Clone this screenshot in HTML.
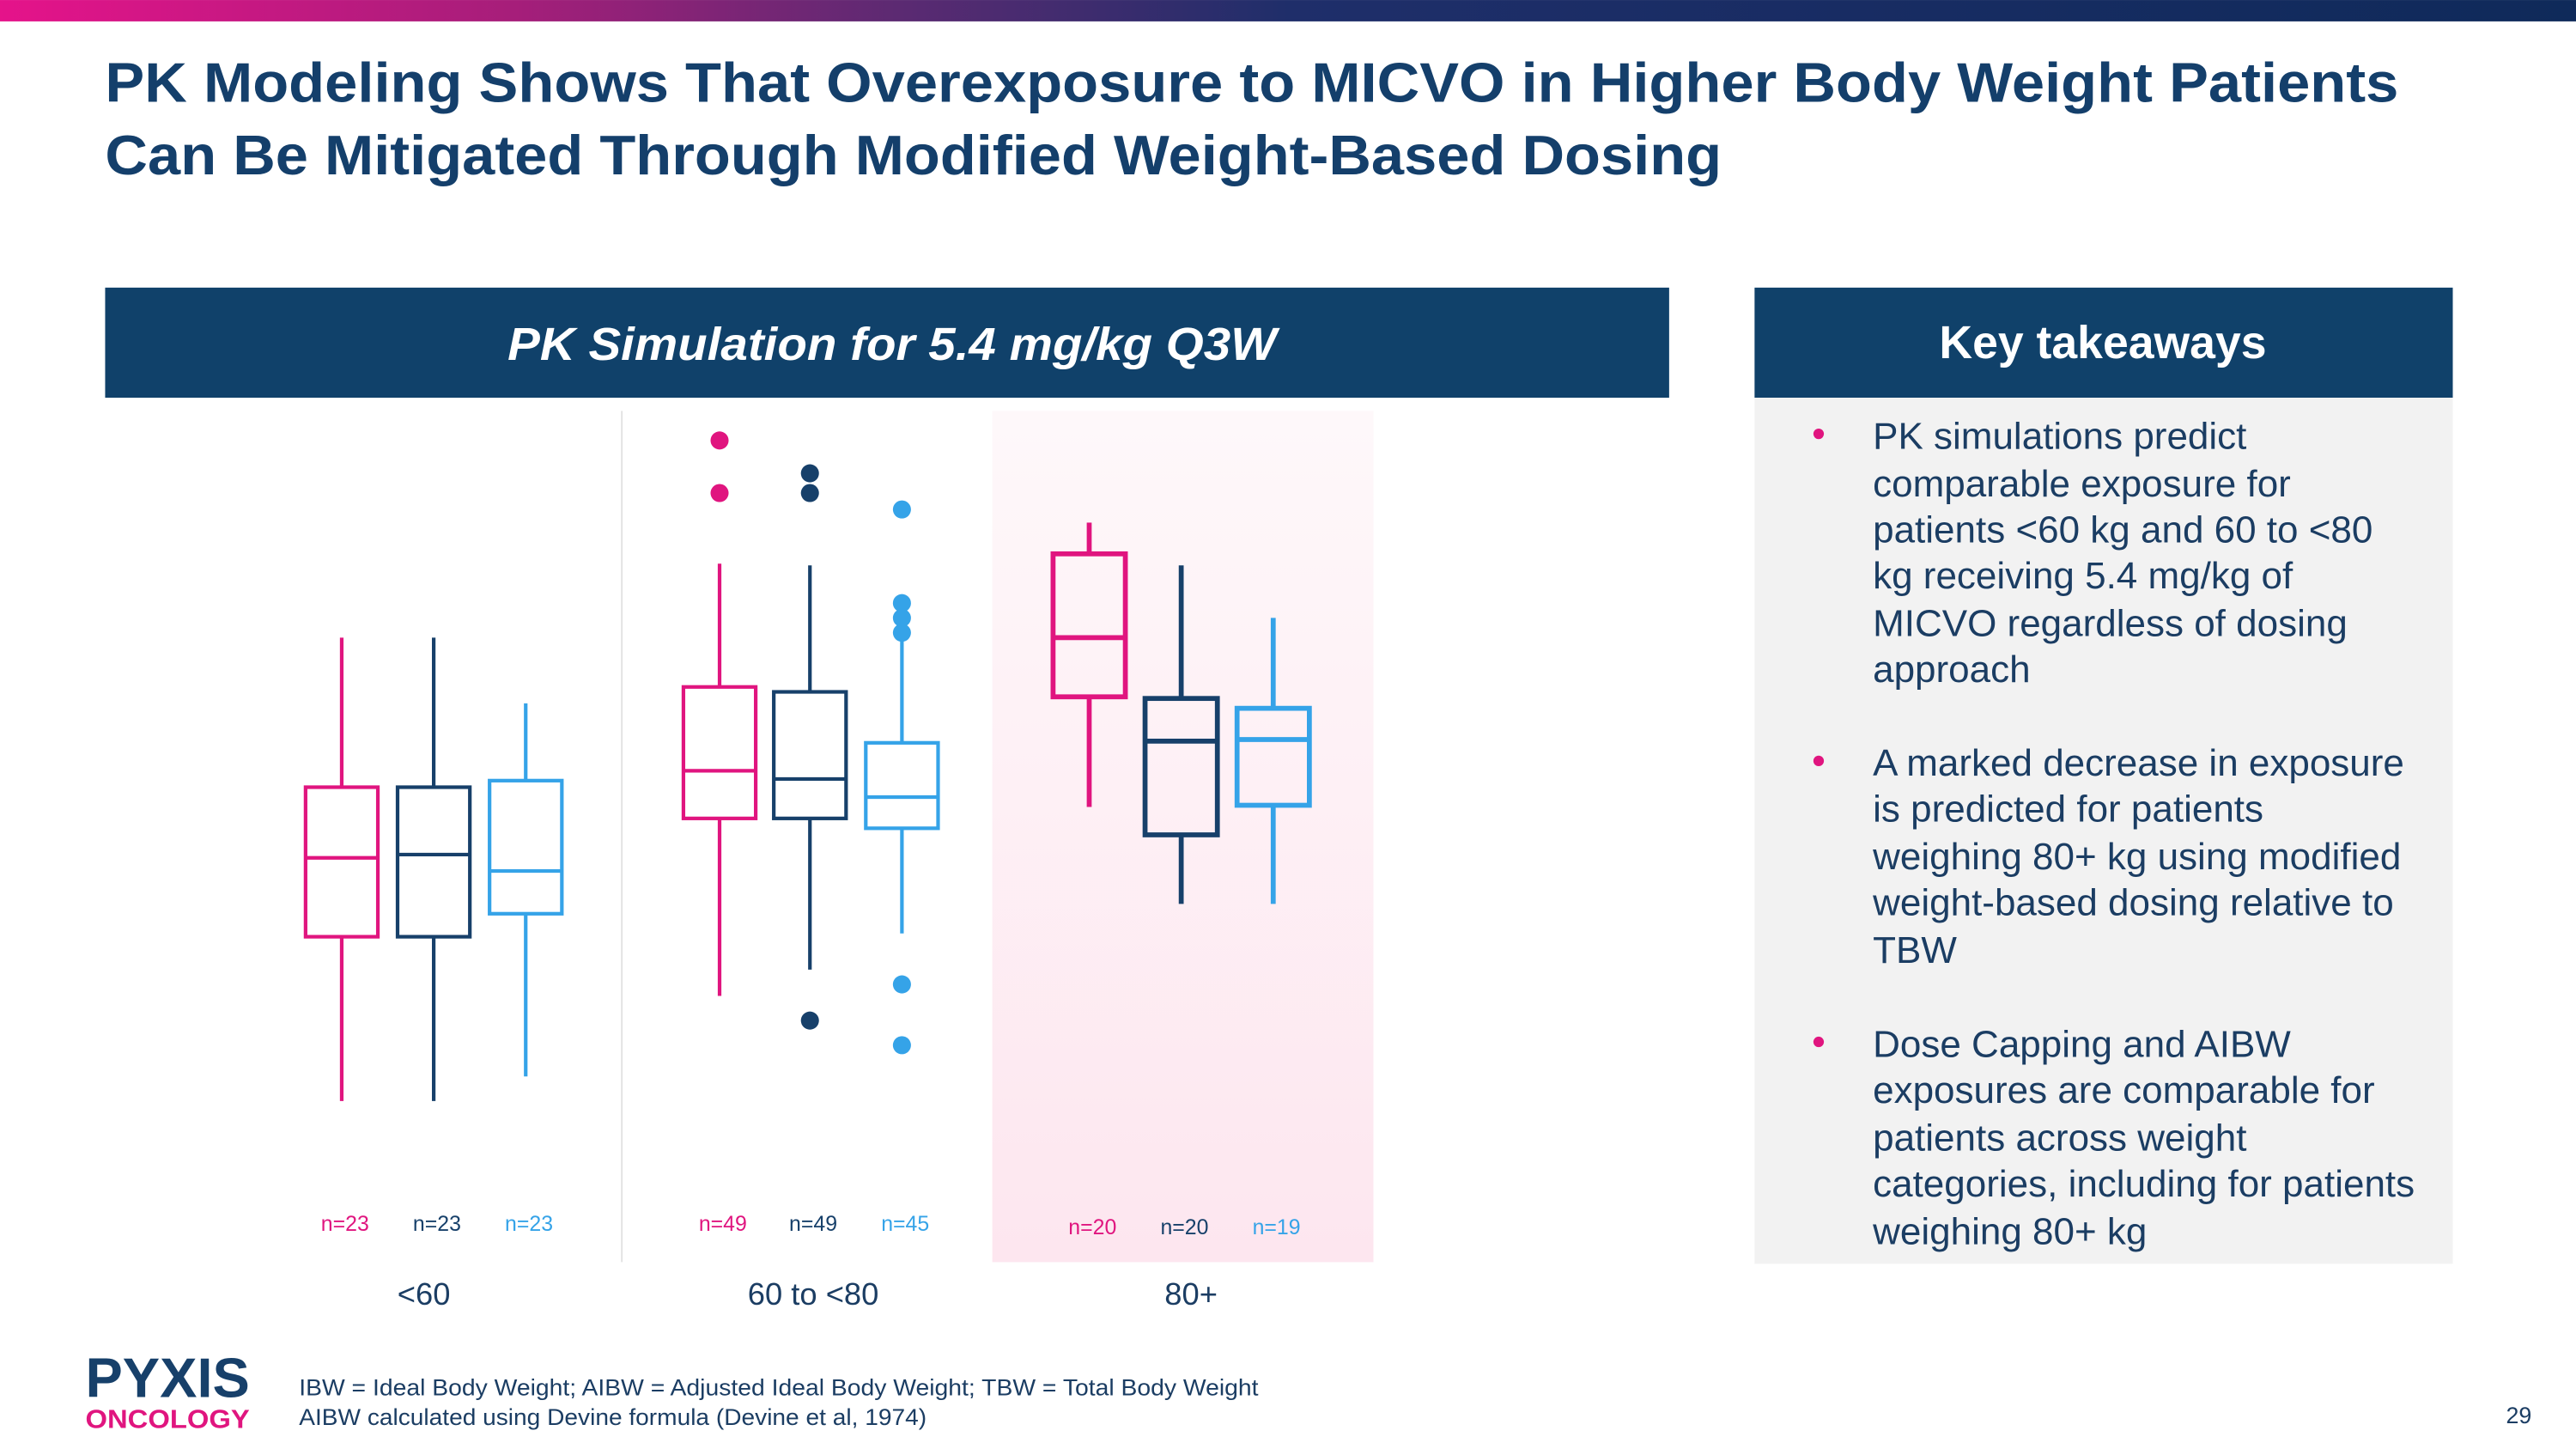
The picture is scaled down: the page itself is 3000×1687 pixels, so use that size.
<!DOCTYPE html>
<html><head><meta charset="utf-8"><style>
html,body{margin:0;padding:0;background:#fff;width:3000px;height:1687px;overflow:hidden}
svg{display:block}
text{font-family:"Liberation Sans",Arial,sans-serif}
</style></head><body>
<svg id="s" width="3000" height="1687" viewBox="0 0 1568 881.7" xmlns="http://www.w3.org/2000/svg">
<defs>
<linearGradient id="top" x1="0" x2="1" y1="0" y2="0">
<stop offset="0" stop-color="#e5138a"/><stop offset="0.2" stop-color="#a61e7a"/><stop offset="0.35" stop-color="#5b2a72"/><stop offset="0.5" stop-color="#1f2e6a"/><stop offset="1" stop-color="#0f2a5a"/>
</linearGradient>
<linearGradient id="pinkbg" x1="0" x2="0" y1="0" y2="1">
<stop offset="0" stop-color="#fef8fa"/><stop offset="1" stop-color="#fde6ef"/>
</linearGradient>
</defs>
<rect x="0" y="0" width="1568" height="13" fill="url(#top)"/>
<text x="64" y="62" font-size="34" font-weight="bold" fill="#143f6b" textLength="1396" lengthAdjust="spacingAndGlyphs">PK Modeling Shows That Overexposure to MICVO in Higher Body Weight Patients</text>
<text x="64" y="106" font-size="34" font-weight="bold" fill="#143f6b" textLength="984" lengthAdjust="spacingAndGlyphs">Can Be Mitigated Through Modified Weight-Based Dosing</text>

<rect x="64" y="175" width="952" height="67" fill="#10416a"/>
<text x="309" y="219" font-size="28" font-weight="bold" font-style="italic" fill="#fff" textLength="468" lengthAdjust="spacingAndGlyphs">PK Simulation for 5.4 mg/kg Q3W</text>

<rect x="1068" y="175" width="425" height="67" fill="#10416a"/>
<text x="1280" y="218" font-size="28" font-weight="bold" fill="#fff" text-anchor="middle">Key takeaways</text>
<rect x="1068" y="242" width="425" height="527" fill="#f2f2f2"/>
<g font-size="23" fill="#1b3d63">
<circle cx="1107" cy="264" r="3.2" fill="#e0157f"/>
<text x="1140" y="273">PK simulations predict</text>
<text x="1140" y="302">comparable exposure for</text>
<text x="1140" y="330">patients &lt;60 kg and 60 to &lt;80</text>
<text x="1140" y="358">kg receiving 5.4 mg/kg of</text>
<text x="1140" y="387">MICVO regardless of dosing</text>
<text x="1140" y="415">approach</text>
<circle cx="1107" cy="463" r="3.2" fill="#e0157f"/>
<text x="1140" y="472">A marked decrease in exposure</text>
<text x="1140" y="500">is predicted for patients</text>
<text x="1140" y="529">weighing 80+ kg using modified</text>
<text x="1140" y="557">weight-based dosing relative to</text>
<text x="1140" y="586">TBW</text>
<circle cx="1107" cy="634" r="3.2" fill="#e0157f"/>
<text x="1140" y="643">Dose Capping and AIBW</text>
<text x="1140" y="671">exposures are comparable for</text>
<text x="1140" y="700">patients across weight</text>
<text x="1140" y="728">categories, including for patients</text>
<text x="1140" y="757">weighing 80+ kg</text>
</g>

<rect x="604" y="250" width="232" height="518" fill="url(#pinkbg)"/>
<line x1="378.5" y1="250" x2="378.5" y2="768" stroke="#e2e2e2" stroke-width="1"/>
<g id="chart"></g>

<g>
<text x="52" y="850" font-size="34" font-weight="bold" fill="#17406a" textLength="100" lengthAdjust="spacingAndGlyphs">PYXIS</text>
<text x="52" y="869" font-size="16" font-weight="bold" fill="#e0157f" textLength="100" lengthAdjust="spacingAndGlyphs">ONCOLOGY</text>
<text x="182" y="849" font-size="14" fill="#1b3d63" textLength="584" lengthAdjust="spacingAndGlyphs">IBW = Ideal Body Weight; AIBW = Adjusted Ideal Body Weight; TBW = Total Body Weight</text>
<text x="182" y="867" font-size="14" fill="#1b3d63" textLength="382" lengthAdjust="spacingAndGlyphs">AIBW calculated using Devine formula (Devine et al, 1974)</text>
<text x="1541" y="866" font-size="14" fill="#1b3d63" text-anchor="end">29</text>
</g>
</svg>
<script>
// exposure units (arbitrary); groups and series
const categories = ["<60", "60 to <80", "80+"];
const seriesNames = ["TBW", "Dose Capping", "AIBW"];
const whiskerHigh = [[78, 78, 68], [89.25, 89, 77.5], [95.5, 89, 81]];
const q3 = [[55.25, 55.25, 56.25], [70.5, 69.75, 62], [90.75, 68.75, 67.25]];
const medians = [[44.5, 45, 42.5], [57.75, 56.5, 53.75], [78, 62.25, 62.5]];
const q1 = [[32.5, 32.5, 36], [50.5, 50.5, 49], [69, 48, 52.5]];
const whiskerLow = [[7.5, 7.5, 11.25], [23.5, 27.5, 33], [52.25, 37.5, 37.5]];
const outliers = [[[], [], []], [[108, 100], [103, 100, 19.75], [97.5, 83.25, 81, 78.75, 25.25, 16]], [[], [], []]];
const counts = [["n=23", "n=23", "n=23"], ["n=49", "n=49", "n=45"], ["n=20", "n=20", "n=19"]];

const colors = ["#e0157f", "#17406a", "#35a3e8"];
const groupCenter = [264, 493, 719];
const seriesOffset = [-56, 0, 56];
function yScale(v) { return 700 - v * 4; }
function xPos(g, s) { return groupCenter[g] + seriesOffset[s] + (g === 1 && s === 0 ? 1 : 0); }

const NS = "http://www.w3.org/2000/svg";
const chart = document.getElementById("chart");
function mk(tag, attrs) {
  const e = document.createElementNS(NS, tag);
  for (const k in attrs) e.setAttribute(k, attrs[k]);
  chart.appendChild(e);
  return e;
}
for (let g = 0; g < categories.length; g++) {
  const sw = g === 2 ? 3 : 2.2;
  for (let s = 0; s < seriesNames.length; s++) {
    const x = xPos(g, s), c = colors[s], hw = 22;
    const wu = mk("line", {x1: x, x2: x, y1: yScale(whiskerHigh[g][s]), y2: yScale(q3[g][s]), stroke: c, "stroke-width": sw});
    
    
    const wl = mk("line", {x1: x, x2: x, y1: yScale(q1[g][s]), y2: yScale(whiskerLow[g][s]), stroke: c, "stroke-width": sw});
    
    
    const b = mk("rect", {x: x - hw, y: yScale(q3[g][s]), width: hw * 2, height: yScale(q1[g][s]) - yScale(q3[g][s]), fill: "none", stroke: c, "stroke-width": sw});
    
    
    const m = mk("line", {x1: x - hw, x2: x + hw, y1: yScale(medians[g][s]), y2: yScale(medians[g][s]), stroke: c, "stroke-width": sw});
    
    
    for (const o of outliers[g][s]) {
      const p = mk("circle", {cx: x, cy: yScale(o), r: 5.5, fill: c});
      
      
    }
    const t = mk("text", {x: x + 2, y: g === 2 ? 751 : 749, "font-size": 13, fill: c, "text-anchor": "middle"});
    t.textContent = counts[g][s];
    
    
  }
  const cl = mk("text", {x: groupCenter[g] + (g === 0 ? -6 : g === 1 ? 2 : 6), y: 794, "font-size": 19, fill: "#1b3d63", "text-anchor": "middle"});
  cl.textContent = categories[g];
  
  
}
</script>
</body></html>
